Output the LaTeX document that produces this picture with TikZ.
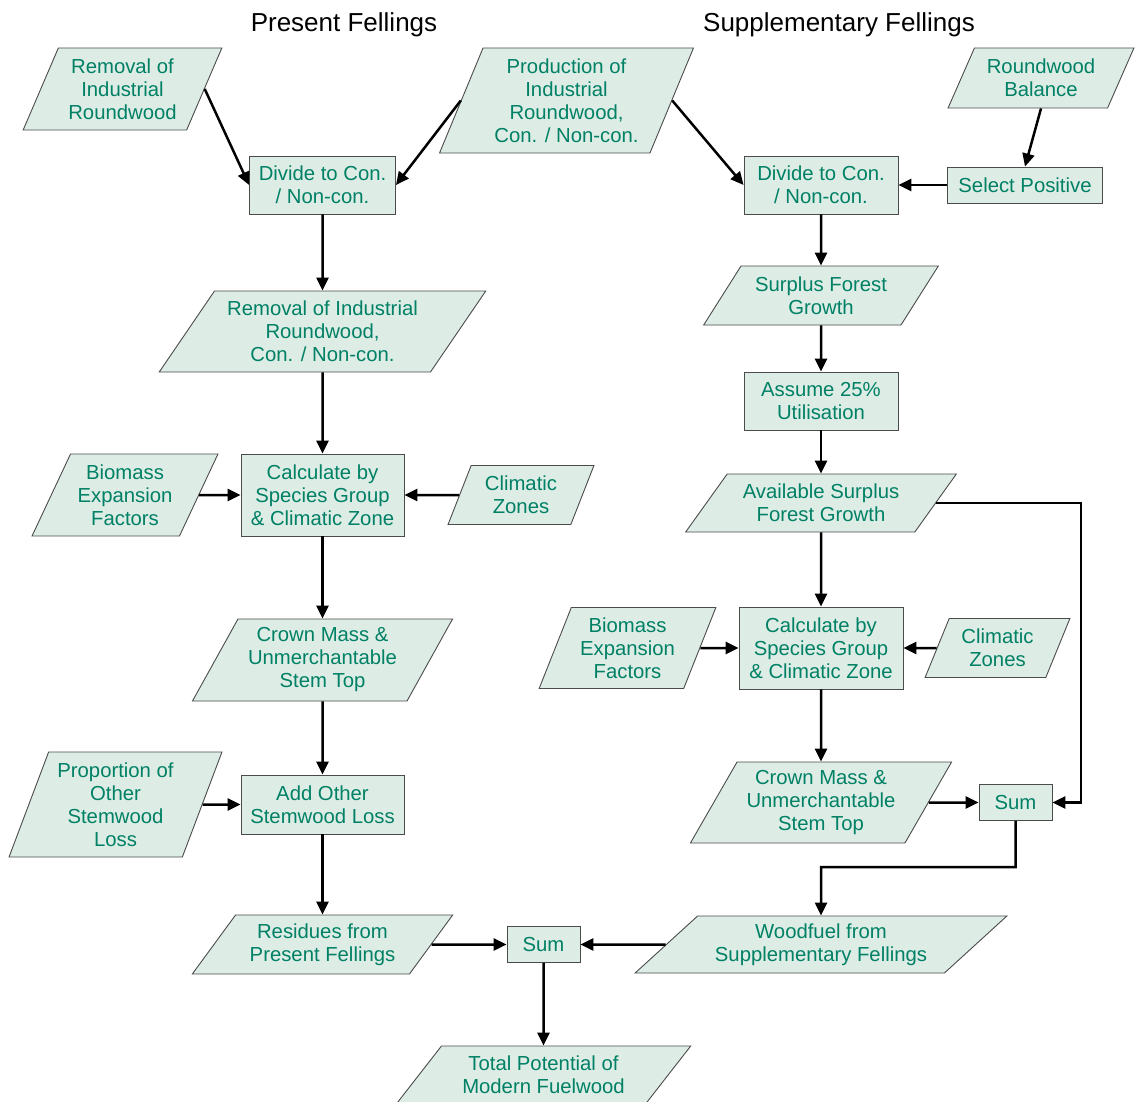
\documentclass[tikz,border=0pt]{standalone}
\usepackage{fontspec}
\setmainfont{Liberation Sans}
\usetikzlibrary{shapes.geometric,arrows.meta}
\definecolor{boxfill}{RGB}{221,237,230}
\definecolor{boxtext}{RGB}{0,128,100}
\definecolor{boxline}{RGB}{75,75,75}
\tikzset{
	proc/.style 2 args={draw=boxline,fill=boxfill,text=boxtext,line width=0.9pt,
		minimum width=#1,minimum height=#2,inner sep=0pt,align=center,
		font=\fontsize{20.3}{23}\selectfont},
	io/.style n args={3}{trapezium,trapezium left angle=#3,trapezium right angle=180-#3,
		trapezium stretches=true,draw=boxline,fill=boxfill,text=boxtext,line width=0.9pt,
		minimum width=#1,minimum height=#2,inner sep=0pt,align=center,
		font=\fontsize{20.3}{23}\selectfont},
	heading/.style={font=\fontsize{26}{29}\selectfont},
	flow/.style={line width=2.5pt,-{Triangle[length=13pt,width=12pt]}},
}
\begin{document}
\begin{tikzpicture}[x=1pt,y=-1pt]
		\path[use as bounding box,fill=white] (0,0) rectangle (1135,1102);

		\node[heading] (T1) at (344,25) {Present Fellings};
		\node[heading] (T2) at (839,25) {Supplementary Fellings};

		\node[io={199}{82}{64.0}] (RIR) at (122.5,89) {Removal of\\Industrial\\Roundwood};
		\node[io={254}{105}{65.9}] (PIR) at (566.5,100.5) {Production of\\Industrial\\Roundwood,\\Con. / Non-con.};
		\node[io={186}{60}{60.5}] (RB) at (1041,78) {Roundwood\\Balance};
		\node[proc={146}{58}] (D1) at (322.5,185) {Divide to Con.\\/ Non-con.};
		\node[proc={154}{58}] (D2) at (821,185) {Divide to Con.\\/ Non-con.};
		\node[proc={155}{36}] (SP) at (1025,185) {Select Positive};

		\node[io={327}{81}{51.3}] (RC) at (322.5,331.5) {Removal of Industrial\\Roundwood,\\Con. / Non-con.};
		\node[io={186}{82}{61.2}] (BE1) at (125,495) {Biomass\\Expansion\\Factors};
		\node[proc={163}{82}] (C1) at (322.5,495) {Calculate by\\Species Group\\\& Climatic Zone};
		\node[io={146}{59}{66.2}] (CZ1) at (521,495) {Climatic\\Zones};
		\node[io={261}{82}{58.1}] (CM1) at (322.5,660) {Crown Mass \&\\Unmerchantable\\Stem Top};
		\node[io={213}{105}{67.7}] (PO) at (115.5,804.5) {Proportion of\\Other\\Stemwood\\Loss};
		\node[proc={163}{59}] (AO) at (322.5,804.5) {Add Other\\Stemwood Loss};
		\node[io={261}{59}{49.2}] (RP) at (322.5,944.5) {Residues from\\Present Fellings};

		\node[io={235}{59}{50.9}] (SF) at (821,295.5) {Surplus Forest\\Growth};
		\node[proc={154}{58}] (AU) at (821,401) {Assume 25\%\\Utilisation};
		\node[io={271}{58}{47.6}] (AS) at (821,503) {Available Surplus\\Forest Growth};
		\node[io={177}{81}{66.0}] (BE2) at (627.5,648) {Biomass\\Expansion\\Factors};
		\node[proc={164}{82}] (C2) at (821,648) {Calculate by\\Species Group\\\& Climatic Zone};
		\node[io={145}{59}{64.6}] (CZ2) at (997.5,648) {Climatic\\Zones};
		\node[io={262}{81}{57.3}] (CM2) at (821,802.5) {Crown Mass \&\\Unmerchantable\\Stem Top};
		\node[proc={73}{36}] (S1) at (1015.5,802.5) {Sum};
		\node[io={372}{57}{38.0}] (WF) at (821,944.5) {Woodfuel from\\Supplementary Fellings};

		\node[proc={73}{36}] (S2) at (543.5,944.5) {Sum};
		\node[io={295}{58}{46.5}] (TP) at (543.5,1075) {Total Potential of\\Modern Fuelwood};

		\coordinate (R1) at (1081,802.5);
		\coordinate (R2) at (821,867);

		\path[flow] (RIR.east) edge (D1.west);
		\path[flow] (PIR.west) edge (D1.east);
		\path[flow] (PIR.east) edge (D2.west);
		\path[flow] (RB.south) edge (SP.north);
		\path[flow] (SP.west) edge (D2.east);
		\path[flow] (D1) edge (RC);
		\path[flow] (RC) edge (C1);
		\path[flow] (BE1.east) edge (C1.west);
		\path[flow] (CZ1.west) edge (C1.east);
		\path[flow] (C1) edge (CM1);
		\path[flow] (CM1) edge (AO);
		\path[flow] (PO.east) edge (AO.west);
		\path[flow] (AO) edge (RP);
		\path[flow] (RP.east) edge (S2.west);
		\path[flow] (WF.west) edge (S2.east);
		\path[flow] (S2) edge (TP);

		\path[flow] (D2) edge (SF);
		\path[flow] (SF) edge (AU);
		\path[flow] (AU) edge (AS);
		\path[flow] (AS) edge (C2);
		\path[flow] (BE2.east) edge (C2.west);
		\path[flow] (CZ2.west) edge (C2.east);
		\path[flow] (C2) edge (CM2);
		\path[flow] (CM2.east) edge (S1.west);
		\draw[flow] (AS.east) -| (R1) -- (S1.east);
		\draw[flow] (S1.south) |- (R2) -- (WF.north);

\end{tikzpicture}
\end{document}
